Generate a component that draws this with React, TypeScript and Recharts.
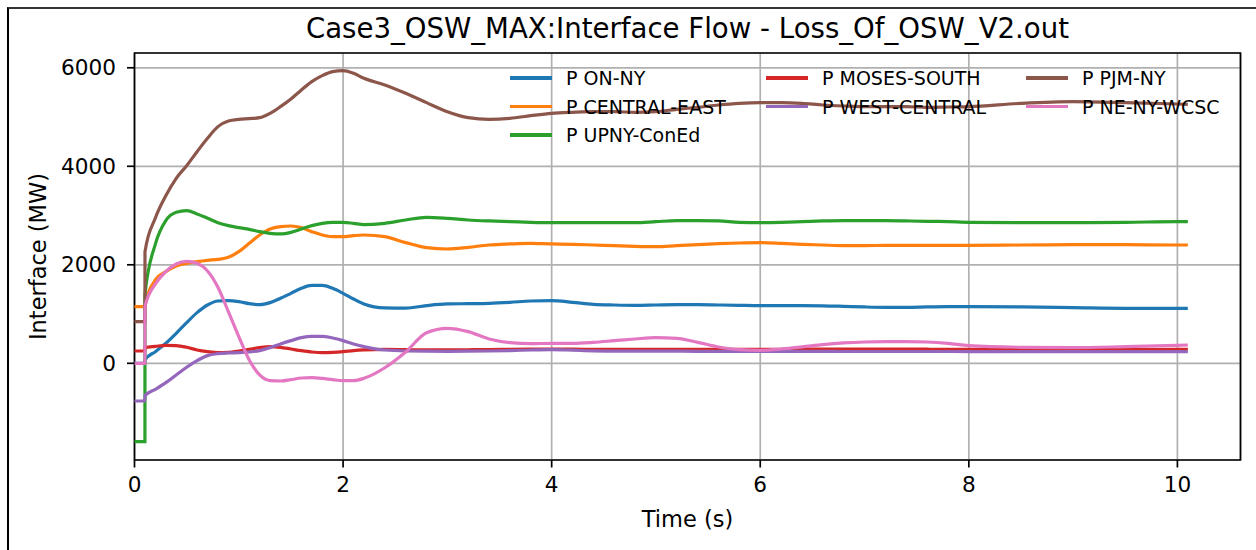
import { CartesianGrid, Line, LineChart, ReferenceArea, XAxis, YAxis } from 'recharts';

const time = [
  0, 0.1, 0.1005, 0.2, 0.3, 0.4, 0.5, 0.6, 0.7, 0.8, 0.9, 1.0, 1.1, 1.2, 1.3, 1.4, 1.5, 1.6, 1.7, 1.8, 1.9, 2.0,
  2.1, 2.2, 2.4, 2.6, 2.8, 3.0, 3.2, 3.4, 3.6, 3.8, 4.0, 4.2, 4.4, 4.6, 4.8, 5.0, 5.2, 5.4, 5.6, 5.8, 6.0, 6.2,
  6.4, 6.6, 6.8, 7.0, 7.2, 7.4, 7.6, 7.8, 8.0, 8.5, 9.0, 9.5, 10.0, 10.1
];

const onNy = [
  0, 0, 70, 237, 406, 609, 826, 1029, 1184, 1265, 1272, 1252, 1211, 1191, 1232, 1320, 1421, 1523, 1583, 1583, 1523, 1421,
  1306, 1205, 1125, 1120, 1171, 1205, 1211, 1218, 1238, 1265, 1272, 1238, 1198, 1184, 1177, 1184, 1191, 1191, 1184, 1177, 1171, 1171,
  1171, 1168, 1157, 1144, 1137, 1137, 1144, 1150, 1150, 1144, 1130, 1117, 1117, 1117
];

const centralEast = [
  1150, 1150, 1160, 1692, 1861, 1976, 2030, 2064, 2091, 2111, 2152, 2267, 2436, 2605, 2727, 2774, 2788, 2754, 2673, 2605, 2571, 2571,
  2592, 2605, 2571, 2450, 2348, 2321, 2355, 2402, 2423, 2436, 2423, 2416, 2402, 2389, 2375, 2368, 2389, 2409, 2429, 2443, 2450, 2436,
  2416, 2402, 2389, 2389, 2395, 2395, 2395, 2395, 2395, 2402, 2409, 2409, 2402, 2402
];

const upnyConEd = [
  -1591, -1591, 1400, 2420, 2896, 3065, 3099, 3032, 2944, 2856, 2795, 2754, 2720, 2673, 2639, 2626, 2659, 2727, 2795, 2842, 2862, 2862,
  2842, 2815, 2842, 2910, 2964, 2944, 2910, 2890, 2876, 2862, 2856, 2856, 2856, 2856, 2856, 2876, 2896, 2896, 2890, 2862, 2856, 2862,
  2876, 2890, 2896, 2896, 2896, 2890, 2883, 2876, 2862, 2856, 2856, 2862, 2876, 2876
];

const mosesSouth = [
  250, 250, 320, 345, 365, 359, 325, 271, 237, 217, 223, 250, 284, 318, 338, 325, 291, 257, 230, 217, 223, 237,
  257, 271, 284, 278, 271, 271, 275, 280, 284, 288, 291, 288, 284, 284, 284, 284, 284, 284, 284, 284, 284, 284,
  286, 288, 290, 291, 290, 288, 286, 284, 284, 282, 277, 280, 284, 284
];

const westCentral = [
  -765, -765, -656, -528, -392, -237, -81, 54, 156, 196, 210, 217, 230, 257, 318, 392, 460, 521, 548, 548, 514, 460,
  392, 340, 270, 250, 246, 244, 246, 250, 258, 270, 277, 266, 252, 248, 246, 246, 246, 244, 244, 244, 244, 244,
  242, 242, 240, 240, 240, 240, 240, 240, 238, 238, 237, 237, 237, 237
];

const pjmNy = [
  846, 846, 2267, 2950, 3400, 3756, 4013, 4297, 4568, 4805, 4920, 4953, 4967, 4987, 5075, 5211, 5366, 5549, 5718, 5840, 5921, 5941,
  5887, 5786, 5650, 5481, 5292, 5109, 4987, 4953, 4974, 5028, 5075, 5096, 5109, 5109, 5096, 5109, 5157, 5197, 5244, 5278, 5292, 5292,
  5278, 5244, 5224, 5211, 5211, 5211, 5197, 5204, 5211, 5278, 5312, 5292, 5265, 5258
];

const neNyWcsc = [
  0, 0, 1150, 1610, 1861, 2017, 2071, 2030, 1874, 1543, 1049, 541, 68, -237, -352, -359, -332, -298, -291, -305, -332, -352,
  -352, -305, -90, 230, 620, 711, 643, 494, 420, 399, 406, 406, 426, 460, 494, 521, 507, 426, 332, 277, 264, 291,
  332, 379, 413, 433, 440, 440, 433, 406, 359, 325, 318, 338, 365, 372
];

const series = [
  { key: 'onNy', name: 'P ON-NY', color: '#1f77b4', values: onNy },
  { key: 'centralEast', name: 'P CENTRAL-EAST', color: '#ff7f0e', values: centralEast },
  { key: 'upnyConEd', name: 'P UPNY-ConEd', color: '#2ca02c', values: upnyConEd },
  { key: 'mosesSouth', name: 'P MOSES-SOUTH', color: '#d62728', values: mosesSouth },
  { key: 'westCentral', name: 'P WEST-CENTRAL', color: '#9467bd', values: westCentral },
  { key: 'pjmNy', name: 'P PJM-NY', color: '#8c564b', values: pjmNy },
  { key: 'neNyWcsc', name: 'P NE-NY-WCSC', color: '#e377c2', values: neNyWcsc }
];

const xTicks = [0, 2, 4, 6, 8, 10];
const yTicks = [0, 2000, 4000, 6000];
const xDomain: [number, number] = [0, 10.605];
const yDomain: [number, number] = [-1963, 6300];

const data = time.map((t, i) => {
  const row: Record<string, number> = { t };
  series.forEach((s) => {
    row[s.key] = s.values[i];
  });
  return row;
});

const font = 'DejaVu Sans, sans-serif';

// legend columns (matplotlib ncol=3, filled column by column)
const legendCols = [510, 766, 1026];
const legendRows = [78, 106.5, 135];
const legendLayout = [
  [0, 0], [0, 1], [0, 2],
  [1, 0], [1, 1],
  [2, 0], [2, 1]
];

export default function App() {
  return (
    <div style={{ position: 'absolute', left: 0, top: 0, width: 1256, height: 550, background: '#fff', fontFamily: font }}>
      <div
        style={{
          position: 'absolute',
          left: 7,
          top: 7,
          width: 1260,
          height: 560,
          borderLeft: '2px solid #000',
          borderTop: '2px solid #333'
        }}
      />
      <div
        style={{
          position: 'absolute',
          left: 134.5,
          width: 1106,
          top: 12,
          textAlign: 'center',
          fontSize: 27.6,
          color: '#000',
          whiteSpace: 'nowrap'
        }}
      >
        Case3_OSW_MAX:Interface Flow - Loss_Of_OSW_V2.out
      </div>
      <LineChart
        width={1256}
        height={550}
        data={data}
        margin={{ top: 53, right: 15.5, bottom: 0, left: 0 }}
        style={{ position: 'absolute', left: 0, top: 0 }}
      >
        <CartesianGrid stroke="#b0b0b0" strokeWidth={1.7} />
        <XAxis
          dataKey="t"
          type="number"
          domain={xDomain}
          ticks={xTicks}
          height={90}
          axisLine={false}
          tickSize={7.5}
          tickMargin={9}
          tickLine={{ stroke: '#000', strokeWidth: 1.7 }}
          tick={{ fill: '#000', fontSize: 21.6, fontFamily: font }}
          label={{
            value: 'Time (s)',
            position: 'insideBottom',
            offset: 23,
            style: { fill: '#000', fontSize: 22.5, fontFamily: font }
          }}
        />
        <YAxis
          type="number"
          domain={yDomain}
          ticks={yTicks}
          width={134.5}
          axisLine={false}
          tickSize={7.5}
          tickMargin={11}
          tickLine={{ stroke: '#000', strokeWidth: 1.7 }}
          tick={{ fill: '#000', fontSize: 21.6, fontFamily: font }}
          label={{
            value: 'Interface (MW)',
            angle: -90,
            position: 'insideLeft',
            offset: 38,
            style: { fill: '#000', fontSize: 22.5, fontFamily: font, textAnchor: 'middle' }
          }}
        />
        {series.map((s) => (
          <Line
            key={s.key}
            dataKey={s.key}
            name={s.name}
            type="monotone"
            stroke={s.color}
            strokeWidth={3.2}
            dot={false}
            activeDot={false}
            isAnimationActive={false}
          />
        ))}
        <ReferenceArea
          x1={xDomain[0]}
          x2={xDomain[1]}
          y1={yDomain[0]}
          y2={yDomain[1]}
          fill="none"
          stroke="#000"
          strokeWidth={1.7}
          ifOverflow="visible"
        />
      </LineChart>
      {series.map((s, i) => {
        const [c, r] = legendLayout[i];
        return (
          <div
            key={s.key}
            style={{
              position: 'absolute',
              left: legendCols[c],
              top: legendRows[r] - 12,
              height: 24,
              display: 'flex',
              alignItems: 'center',
              whiteSpace: 'nowrap',
              fontSize: 19,
              color: '#000'
            }}
          >
            <span style={{ display: 'inline-block', width: 42, height: 3.2, background: s.color, marginRight: 14 }} />
            {s.name}
          </div>
        );
      })}
    </div>
  );
}
